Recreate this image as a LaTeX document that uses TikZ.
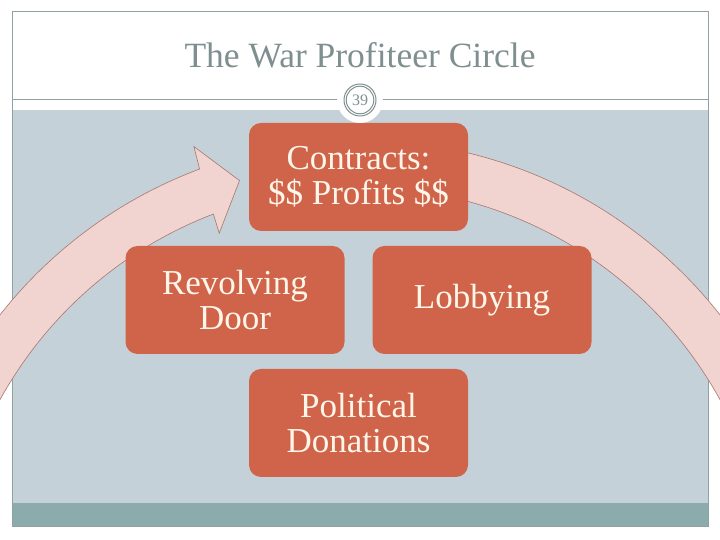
\documentclass[tikz,border=0pt]{standalone}
\usepackage{fontspec}
\setmainfont{Liberation Serif}
\definecolor{bgray}{HTML}{C5D1D8}
\definecolor{band}{HTML}{8BABAD}
\definecolor{frameline}{HTML}{8FA2A2}
\definecolor{titlecol}{HTML}{7F8F8F}
\definecolor{boxfill}{HTML}{D0644A}
\definecolor{boxtext}{HTML}{FFF6EA}
\definecolor{arcfill}{HTML}{F1D4CF}
\definecolor{arcline}{HTML}{A9766F}
\tikzset{
  cyclebox/.style={fill=boxfill, rounded corners=12pt, minimum width=219pt, minimum height=108pt,
    inner sep=0pt, align=center, text=boxtext, font=\fontsize{35}{35}\selectfont},
  arcband/.style={fill=arcfill, draw=arcline, line width=0.6pt},
}
\begin{document}
\begin{tikzpicture}[x=1pt,y=1pt]
\useasboundingbox (0,0) rectangle (720,540);
\fill[white] (0,0) rectangle (720,540);
% slide background
\fill[bgray] (12,430) rectangle (708,37);
\fill[band] (12,37) rectangle (708,13);
\draw[frameline, line width=1pt] (12,528) rectangle (708,13);
\draw[frameline, line width=1pt] (12,440) -- (708,440);
% title
\node[text=titlecol, font=\fontsize{35.5}{40}\selectfont] (title) at (360,485) {The War Profiteer Circle};
% arcs
\coordinate (C) at (360,-58);
\begin{scope}
\clip (0,0) rectangle (720,540);
\draw[arcband] ([shift={(160:458)}]C) arc[start angle=160, end angle=110.5, radius=458]
  -- ([shift={(110.2:481)}]C) -- ([shift={(106.1:434.5)}]C) -- ([shift={(111.1:391)}]C)
  -- ([shift={(110.9:411)}]C) arc[start angle=110.9, end angle=160, radius=411] -- cycle;
\draw[arcband] ([shift={(82:458)}]C) arc[start angle=82, end angle=15, radius=458]
  -- ([shift={(15:411)}]C) arc[start angle=15, end angle=82, radius=411] -- cycle;
\end{scope}
% boxes
\node[cyclebox] (contracts) at (358.5,363) {Contracts:\\\$\$ Profits \$\$};
\node[cyclebox] (door) at (235,240) {Revolving\\Door};
\node[cyclebox] (lobby) at (482,240) {Lobbying};
\node[cyclebox] (donations) at (358.5,117) {Political\\Donations};
% page number badge
\fill[white] (360,440) circle (23);
\draw[titlecol, line width=1pt] (360,440) circle (16);
\draw[titlecol, line width=1pt] (360,440) circle (13.8);
\node[text=titlecol, font=\fontsize{16}{18}\selectfont] (num) at (360,440) {39};
\end{tikzpicture}
\end{document}
